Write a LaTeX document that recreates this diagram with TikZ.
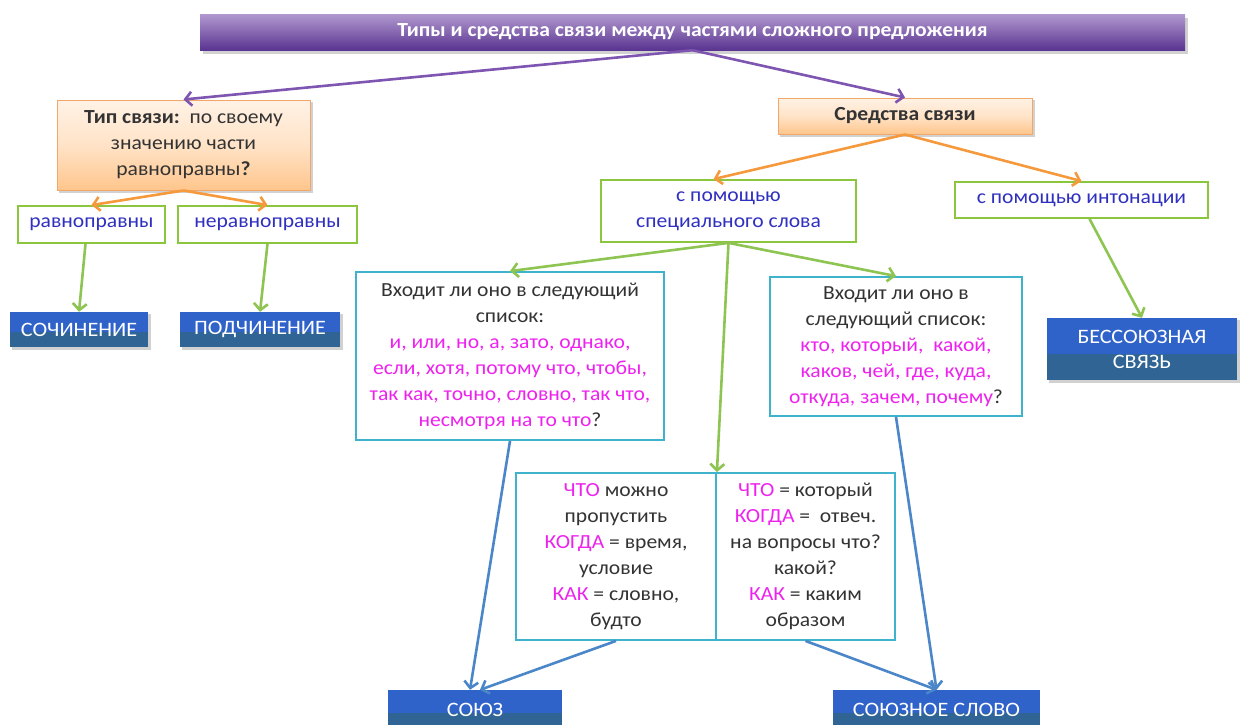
\documentclass[tikz,border=0pt]{standalone}
\usepackage{fontspec}
\setmainfont{Carlito}[FakeStretch=1.08]
\usetikzlibrary{arrows.meta,calc}
\definecolor{grn}{HTML}{8CC63F}
\definecolor{grnarr}{HTML}{8DC452}
\definecolor{cyn}{HTML}{3FB2CC}
\definecolor{bluetxt}{HTML}{3030C0}
\definecolor{mg}{HTML}{EE22EE}
\definecolor{dark}{HTML}{333333}
\definecolor{btop}{HTML}{2F63C9}
\definecolor{bbot}{HTML}{2F6494}
\definecolor{purarr}{HTML}{7E55B0}
\definecolor{orarr}{HTML}{F5993C}
\definecolor{bluearr}{HTML}{4A86C8}
\definecolor{orborder}{HTML}{F2A76A}
\newcommand{\mgt}[1]{\textcolor{mg}{#1}}
\begin{document}
\begin{tikzpicture}[x=1pt,y=-1pt,
  every node/.style={inner sep=0pt, align=center, font=\fontsize{20}{26}\selectfont},
  greenbox/.style={draw=grn, line width=1.8pt, fill=white, text=bluetxt},
  cyanbox/.style={draw=cyn, line width=1.8pt, fill=white, text=dark},
  orbox/.style={draw=orborder, line width=1pt, top color=white!60!orange!25, bottom color=orange!45!white, middle color=orange!22!white, text=dark},
  bluebox/.style={text=white, font=\fontsize{20.5}{25}\selectfont,
    path picture={
      \fill[btop] (path picture bounding box.north west) rectangle ($(path picture bounding box.south east)!0.42!(path picture bounding box.north east)$);
      \fill[bbot] ($(path picture bounding box.south west)!0.42!(path picture bounding box.north west)$) rectangle (path picture bounding box.south east);
    }},
  shad/.style={fill=black!18},
  arr/.style={line width=2.6pt, -{Straight Barb[length=6.5pt,width=14pt]}}
]
\useasboundingbox (0,0) rectangle (1241,724);
% shadows
\fill[shad] (203,18) rectangle (1188,54);
\fill[shad] (12,314) rectangle (151,350);
\fill[shad] (182,314) rectangle (343,350);
\fill[shad] (1049,320) rectangle (1240,383);
\fill[shad] (59,102) rectangle (313,193);
\fill[shad] (780,100) rectangle (1035,137);
% title
\node[minimum width=985pt, minimum height=36pt, top color=purarr!60!white, middle color={rgb,255:red,108;green,94;blue,152}, bottom color={rgb,255:red,90;green,52;blue,145}, text=white,
  font=\fontsize{20}{24}\selectfont\bfseries] (title) at (692.5,32) {Типы и средства связи между частями сложного предложения};
% orange boxes
\node[orbox, minimum width=253pt, minimum height=90pt] (tip) at (183.5,145)
  {\textbf{Тип связи:}\ \ по своему\\ значению части\\ равноправны\textbf{?}};
\node[orbox, minimum width=254pt, minimum height=36pt, font=\fontsize{20}{26}\selectfont\bfseries] (sred) at (905,116) {Средства связи};
% green boxes
\node[greenbox, minimum width=147pt, minimum height=37pt] (ravn) at (91.5,224.5) {равноправны};
\node[greenbox, minimum width=179pt, minimum height=37pt] (nerav) at (267.5,224.5) {неравноправны};
\node[greenbox, minimum width=255pt, minimum height=62pt] (spec) at (728.5,211) {с помощью\\ специального слова};
\node[greenbox, minimum width=253pt, minimum height=36pt] (inton) at (1081.5,200) {с помощью интонации};
% blue boxes
\node[bluebox, minimum width=138pt, minimum height=35pt] (soch) at (79,329.5) {СОЧИНЕНИЕ};
\node[bluebox, minimum width=160pt, minimum height=35pt] (podch) at (260,329.5) {ПОДЧИНЕНИЕ};
\node[bluebox, minimum width=190pt, minimum height=62pt] (bess) at (1142,349) {БЕССОЮЗНАЯ\\ СВЯЗЬ};
\node[bluebox, minimum width=174pt, minimum height=40pt] (soyuz) at (475,710) {СОЮЗ};
\node[bluebox, minimum width=207pt, minimum height=40pt] (soyslovo) at (936.5,710) {СОЮЗНОЕ СЛОВО};
% cyan boxes
\node[cyanbox, minimum width=308pt, minimum height=168pt] (lcyan) at (510,356)
  {Входит ли оно в следующий\\ список:\\ \mgt{и, или, но, а, зато, однако,}\\ \mgt{если, хотя, потому что, чтобы,}\\ \mgt{так как, точно, словно, так что,}\\ \mgt{несмотря на то что}?};
\node[cyanbox, minimum width=252pt, minimum height=139pt] (rcyan) at (896,346.5)
  {Входит ли оно в\\ следующий список:\\ \mgt{кто, который,\ \ какой,}\\ \mgt{каков, чей, где, куда,}\\ \mgt{откуда, зачем,\ почему}?};
\node[cyanbox, minimum width=200pt, minimum height=167pt] (sleft) at (616,556.5)
  {\mgt{ЧТО} можно\\ пропустить\\ \mgt{КОГДА} = время,\\ условие\\ \mgt{КАК} = словно,\\ будто};
\node[cyanbox, minimum width=179pt, minimum height=167pt] (sright) at (805.5,556.5)
  {\mgt{ЧТО} = который\\ \mgt{КОГДА} =\ \ отвеч.\\ на вопросы что?\\ какой?\\ \mgt{КАК} = каким\\ образом};
% arrows
\draw[arr, purarr] (title.south) -- (tip.north);
\draw[arr, purarr] (title.south) -- (sred.north);
\draw[arr, orarr] (tip.south) -- (ravn.north);
\draw[arr, orarr] (tip.south) -- (nerav.north);
\draw[arr, orarr] (sred.south) -- ($(spec.north)+(-15,0)$);
\draw[arr, orarr] (sred.south) -- (inton.north);
\draw[arr, grnarr] ($(ravn.south)+(-6,0)$) -- (soch.north);
\draw[arr, grnarr] (nerav.south) -- (podch.north);
\draw[arr, grnarr] (spec.south) -- (lcyan.north);
\draw[arr, grnarr] (spec.south) -- (sleft.north east);
\draw[arr, grnarr] (spec.south) -- (rcyan.north);
\draw[arr, grnarr] ($(inton.south)+(8,0)$) -- (bess.north);
\draw[arr, bluearr] (lcyan.south) -- ($(soyuz.north)+(-5,0)$);
\draw[arr, bluearr] (sleft.south) -- ($(soyuz.north)+(5,0)$);
\draw[arr, bluearr] (sright.south) -- (soyslovo.north);
\draw[arr, bluearr] (rcyan.south) -- (soyslovo.north);
\end{tikzpicture}
\end{document}
